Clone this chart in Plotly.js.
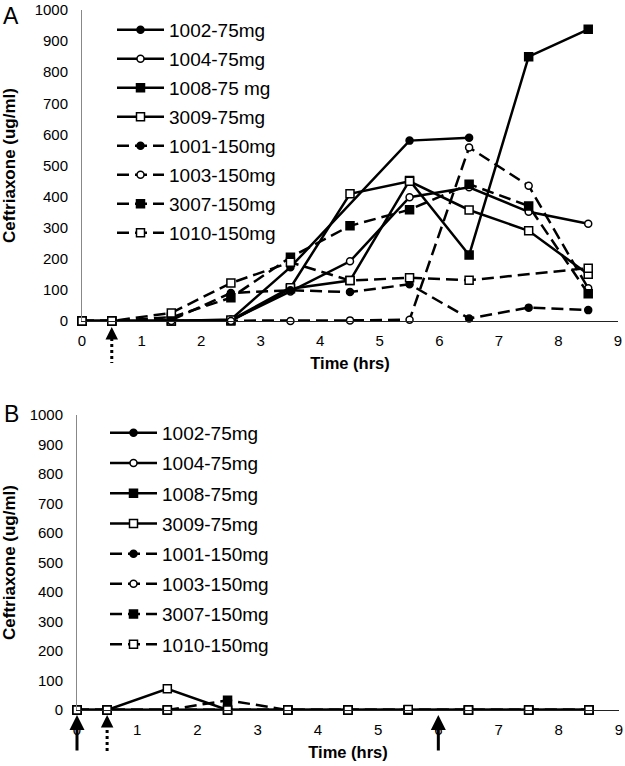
<!DOCTYPE html>
<html>
<head>
<meta charset="utf-8">
<script src="https://cdn.plot.ly/plotly-3.0.1.min.js"></script>
<style>html,body{margin:0;padding:0;background:#fff;}#chart{width:625px;height:766px;}</style>
</head>
<body>
<div id="chart"></div>
<script>
// ---- data ----
var times = [0, 0.5, 1.5, 2.5, 3.5, 4.5, 5.5, 6.5, 7.5, 8.5];
var xTickVals = [0, 1, 2, 3, 4, 5, 6, 7, 8, 9];
var yTickVals = [0, 100, 200, 300, 400, 500, 600, 700, 800, 900, 1000];

var namesA = ["1002-75mg", "1004-75mg", "1008-75 mg", "3009-75mg", "1001-150mg", "1003-150mg", "3007-150mg", "1010-150mg"];
var namesB = ["1002-75mg", "1004-75mg", "1008-75mg", "3009-75mg", "1001-150mg", "1003-150mg", "3007-150mg", "1010-150mg"];

// Panel A values (ug/ml)
var a1002 = [0, 0, 0, 5, 173, null, 580, 589, null, null];
var a1004 = [0, 0, 0, 2, 95, 192, 398, 430, 351, 313];
var a1008 = [0, 0, 0, 0, 104, 130, 452, 212, 850, 938];
var a3009 = [0, 0, 0, 3, 107, 409, 449, 357, 290, 150];
var a1001 = [0, 0, 3, 90, 99, 93, 118, 8, 43, 35];
var a1003 = [0, 0, 0, 0, 0, 2, 4, 558, 435, 105];
var a3007 = [0, 0, 12, 75, 205, 306, 358, 440, 370, 88];
var a1010 = [0, 0, 26, 122, 189, 130, 139, 131, null, 170];

// Panel B values (ug/ml)
var b1002 = [0, 0, 0, 0, 0, 0, 0, 0, 0, 0];
var b1004 = [0, 0, 0, 0, 0, 0, 0, 0, 0, 0];
var b1008 = [0, 0, 0, 0, 0, 0, 0, 0, 0, 0];
var b3009 = [0, 0, 72, 0, 0, 0, 0, 0, 0, 0];
var b1001 = [0, 0, 0, 0, 0, 0, 0, 0, 0, 0];
var b1003 = [0, 0, 0, 0, 0, 0, 0, 0, 0, 0];
var b3007 = [0, 0, 0, 33, 0, 0, 0, 0, 0, 0];
var b1010 = [0, 0, 0, 0, 0, 0, 2, 0, 0, 0];

// ---- styles ----
var FONT = "Liberation Sans, Arial, sans-serif";
var styles = [
  {dash: "solid", symbol: "circle", fill: "#000", size: 7},
  {dash: "solid", symbol: "circle", fill: "#fff", size: 7},
  {dash: "solid", symbol: "square", fill: "#000", size: 8},
  {dash: "solid", symbol: "square", fill: "#fff", size: 8},
  {dash: "12px,6px", symbol: "circle", fill: "#000", size: 7},
  {dash: "12px,6px", symbol: "circle", fill: "#fff", size: 7},
  {dash: "12px,6px", symbol: "square", fill: "#000", size: 8},
  {dash: "12px,6px", symbol: "square", fill: "#fff", size: 8}
];
var seriesA = [a1002, a1004, a1008, a3009, a1001, a1003, a3007, a1010];
var seriesB = [b1002, b1004, b1008, b3009, b1001, b1003, b3007, b1010];

function mk(vals, name, st, xa, ya, leg, grp) {
  return {
    type: "scatter", mode: "lines+markers", x: times, y: vals, name: name,
    xaxis: xa, yaxis: ya, legend: leg, legendgroup: grp, connectgaps: true,
    line: {color: "#000", width: 2.5, dash: st.dash},
    marker: {symbol: st.symbol, size: st.size, color: st.fill, line: {color: "#000", width: 1.5}},
    cliponaxis: false, hoverinfo: "x+y+name"
  };
}
var traces = [];
for (var i = 0; i < 8; i++) traces.push(mk(seriesA[i], namesA[i], styles[i], "x", "y", "legend", "a" + i));
for (var j = 0; j < 8; j++) traces.push(mk(seriesB[j], namesB[j], styles[j], "x2", "y2", "legend2", "b" + j));

var W = 625, H = 766;
function px(v) { return v / W; }
function py(v) { return 1 - v / H; }

function xax(domain, anchor) {
  return {
    domain: domain, anchor: anchor, range: [0, 9], tickvals: xTickVals, ticks: "",
    showgrid: false, zeroline: false, showline: true, linecolor: "#222", linewidth: 1,
    tickfont: {family: FONT, size: 15, color: "#000"}, ticklabelstandoff: 6, ticklabeloverflow: "allow",
    title: {text: "Time (hrs)", font: {family: FONT, size: 16.5, color: "#000", weight: "bold"}, standoff: 9},
    fixedrange: true
  };
}
function yax(domain, anchor) {
  return {
    domain: domain, anchor: anchor, range: [0, 1000], tickvals: yTickVals, ticks: "",
    showgrid: false, zeroline: false, showline: true, linecolor: "#888", linewidth: 1,
    tickfont: {family: FONT, size: 15, color: "#000"}, ticklabelstandoff: 10, ticklabeloverflow: "allow",
    title: {text: "Ceftriaxone (ug/ml)", font: {family: FONT, size: 17, color: "#000", weight: "bold"}, standoff: 15},
    fixedrange: true
  };
}
function legendCfg(x, y, gap) {
  return {
    x: x, y: y, xanchor: "left", yanchor: "top", bgcolor: "rgba(0,0,0,0)",
    font: {family: FONT, size: 19, color: "#000"}, traceorder: "grouped", tracegroupgap: gap,
    itemwidth: 47, itemclick: false, itemdoubleclick: false
  };
}

var layout = {
  width: W, height: H, margin: {l: 0, r: 0, t: 0, b: 0}, paper_bgcolor: "#fff", plot_bgcolor: "rgba(0,0,0,0)",
  font: {family: FONT, color: "#000"},
  xaxis: xax([px(82), px(618)], "y"),
  yaxis: yax([py(321), py(10)], "x"),
  xaxis2: xax([px(77), px(619)], "y2"),
  yaxis2: yax([py(710), py(415)], "x2"),
  legend: legendCfg(px(112), py(11), 1.3),
  legend2: legendCfg(px(105), py(414), 2.5),
  showlegend: true,
  shapes: [
    {type: "line", xref: "x", yref: "paper", x0: 0.5, x1: 0.5, y0: py(338), y1: py(363), line: {color: "#000", width: 3, dash: "dot"}},
    {type: "line", xref: "x2", yref: "paper", x0: 0.5, x1: 0.5, y0: py(724), y1: py(752), line: {color: "#000", width: 3, dash: "dot"}}
  ],
  annotations: [
    {text: "A", xref: "paper", yref: "paper", x: px(1), y: py(1), xanchor: "left", yanchor: "top", showarrow: false, font: {family: FONT, size: 23, color: "#000"}},
    {text: "B", xref: "paper", yref: "paper", x: px(2), y: py(399), xanchor: "left", yanchor: "top", showarrow: false, font: {family: FONT, size: 23, color: "#000"}},
    {text: "", xref: "x", yref: "y", x: 0.5, y: 0, ax: 0, ay: 16, showarrow: true, arrowhead: 2, arrowsize: 1, arrowwidth: 2.5, standoff: 6, arrowcolor: "#000"},
    {text: "", xref: "x2", yref: "y2", x: 0.5, y: 0, ax: 0, ay: 16, showarrow: true, arrowhead: 2, arrowsize: 1, arrowwidth: 2.5, standoff: 5, arrowcolor: "#000"},
    {text: "", xref: "x2", yref: "y2", x: 0, y: 0, ax: 0, ay: 42, showarrow: true, arrowhead: 2, arrowsize: 1, arrowwidth: 3, standoff: 5, arrowcolor: "#000"},
    {text: "", xref: "x2", yref: "y2", x: 6, y: 0, ax: 0, ay: 42, showarrow: true, arrowhead: 2, arrowsize: 1, arrowwidth: 3, standoff: 5, arrowcolor: "#000"}
  ]
};

Plotly.newPlot("chart", traces, layout, {displayModeBar: false, staticPlot: true});
</script>
</body>
</html>
